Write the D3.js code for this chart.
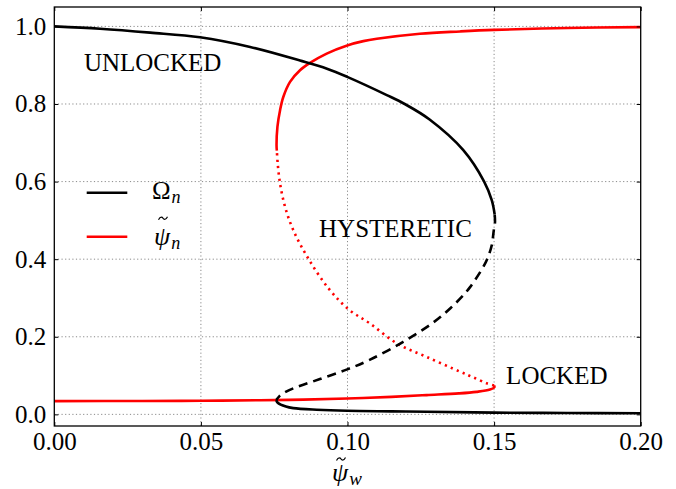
<!DOCTYPE html>
<html>
<head>
<meta charset="utf-8">
<script src="https://cdn.jsdelivr.net/npm/d3@7/dist/d3.min.js"></script>
<style>
  html, body { margin: 0; padding: 0; background: #fff; }
  svg { display: block; }
  text { font-family: "Liberation Serif", "DejaVu Serif", serif; fill: #000; }
</style>
</head>
<body>
<svg id="chart" width="676" height="489"></svg>
<script>
// Axis ticks
const xTicks = [0.00, 0.05, 0.10, 0.15, 0.20];
const yTicks = [0.0, 0.2, 0.4, 0.6, 0.8, 1.0];

// Omega_n branches, [psi_w, value]
const omegaUpper = [
  [0.0000, 1.000], [0.0156, 0.994], [0.0327, 0.984], [0.0497, 0.972],
  [0.0668, 0.947], [0.0838, 0.912], [0.0930, 0.891], [0.0999, 0.870],
  [0.1134, 0.823], [0.1195, 0.800], [0.1280, 0.760], [0.1395, 0.681],
  [0.1466, 0.600], [0.1492, 0.552], [0.1502, 0.515]
];
const omegaUnstable = [
  [0.1502, 0.515], [0.1503, 0.495], [0.1499, 0.475], [0.1492, 0.436],
  [0.1479, 0.405], [0.1463, 0.380], [0.1418, 0.328], [0.1395, 0.307],
  [0.1350, 0.273], [0.1293, 0.237], [0.1190, 0.187], [0.1077, 0.141],
  [0.0999, 0.116], [0.0906, 0.091], [0.0815, 0.067], [0.0787, 0.057],
  [0.0768, 0.047], [0.0757, 0.037]
];
const omegaLower = [
  [0.0757, 0.037], [0.0762, 0.030], [0.0790, 0.020], [0.0815, 0.016],
  [0.0895, 0.012], [0.0999, 0.0093], [0.1150, 0.0078], [0.1270, 0.0067],
  [0.1500, 0.0045], [0.1750, 0.0035], [0.2000, 0.0028]
];

// psi_n branches, [psi_w, value]
const psiLower = [
  [0.0000, 0.034], [0.0300, 0.0345], [0.0500, 0.035], [0.0702, 0.0365],
  [0.0850, 0.038], [0.0999, 0.041], [0.1150, 0.045], [0.1270, 0.0497],
  [0.1380, 0.054], [0.1440, 0.058], [0.1486, 0.064], [0.1501, 0.070],
  [0.1500, 0.0745]
];
const psiUnstable = [
  [0.1500, 0.0745], [0.1475, 0.080], [0.1430, 0.095], [0.1384, 0.110],
  [0.1270, 0.148], [0.1168, 0.183], [0.1077, 0.234], [0.1003, 0.271],
  [0.0935, 0.325], [0.0866, 0.402], [0.0815, 0.475], [0.0787, 0.535],
  [0.0770, 0.595], [0.0762, 0.646], [0.0759, 0.680]
];
const psiUpper = [
  [0.0759, 0.680], [0.0758, 0.693], [0.0761, 0.741], [0.0770, 0.784],
  [0.0781, 0.818], [0.0804, 0.857], [0.0838, 0.887], [0.0872, 0.906],
  [0.0929, 0.930], [0.0999, 0.951], [0.1054, 0.962], [0.1100, 0.968],
  [0.1247, 0.981], [0.1384, 0.987], [0.1500, 0.991], [0.1750, 0.996],
  [0.2000, 0.998]
];

// Region labels: [text, psi_w, value]
const regionLabels = [
  ["UNLOCKED", 0.0101, 0.885],
  ["HYSTERETIC", 0.0903, 0.457],
  ["LOCKED", 0.1541, 0.077]
];

const serif = '"Liberation Serif", "DejaVu Serif", serif';
const svg = d3.select("#chart");
const plotLeft = 54.3, plotRight = 640.7, plotTop = 7, plotBottom = 426;

const x = d3.scaleLinear().domain([0, 0.2]).range([plotLeft, plotRight]);
const y = d3.scaleLinear().domain([-0.03, 1.05]).range([plotBottom, plotTop]);

// dotted grid
const grid = svg.append("g").attr("stroke", "#8a8a8a").attr("stroke-width", 1)
  .attr("stroke-dasharray", "1.2,2.4");
grid.selectAll("line.gx").data(xTicks.slice(1, -1)).join("line")
  .attr("x1", d => x(d)).attr("x2", d => x(d))
  .attr("y1", plotTop).attr("y2", plotBottom);
grid.selectAll("line.gy").data(yTicks).join("line")
  .attr("x1", plotLeft).attr("x2", plotRight)
  .attr("y1", d => y(d)).attr("y2", d => y(d));

// curves
const line = d3.line().x(d => x(d[0])).y(d => y(d[1]))
  .curve(d3.curveCatmullRom.alpha(0.5));

const curves = [
  { data: psiLower, color: "#ff0000", dash: null },
  { data: psiUnstable, color: "#ff0000", dash: "2.2,4.2" },
  { data: psiUpper, color: "#ff0000", dash: null },
  { data: omegaUpper, color: "#000000", dash: null },
  { data: omegaUnstable, color: "#000000", dash: "9,6" },
  { data: omegaLower, color: "#000000", dash: null }
];
svg.append("g").selectAll("path").data(curves).join("path")
  .attr("d", d => line(d.data))
  .attr("fill", "none")
  .attr("stroke", d => d.color)
  .attr("stroke-width", 2.6)
  .attr("stroke-dasharray", d => d.dash)
  .attr("stroke-linecap", "butt");

// frame
svg.append("rect")
  .attr("x", plotLeft).attr("y", plotTop)
  .attr("width", plotRight - plotLeft).attr("height", plotBottom - plotTop)
  .attr("fill", "none").attr("stroke", "#000").attr("stroke-width", 1.3);

// axes with inward ticks on all four sides
const fmtX = d3.format(".2f"), fmtY = d3.format(".1f");
const axB = svg.append("g").attr("transform", `translate(0,${plotBottom})`)
  .call(d3.axisBottom(x).tickValues(xTicks).tickFormat(fmtX).tickSize(-4).tickPadding(6));
const axL = svg.append("g").attr("transform", `translate(${plotLeft},0)`)
  .call(d3.axisLeft(y).tickValues(yTicks).tickFormat(fmtY).tickSize(-4).tickPadding(8));
const axT = svg.append("g").attr("transform", `translate(0,${plotTop})`)
  .call(d3.axisTop(x).tickValues(xTicks).tickFormat("").tickSize(-4));
const axR = svg.append("g").attr("transform", `translate(${plotRight},0)`)
  .call(d3.axisRight(y).tickValues(yTicks).tickFormat("").tickSize(-4));
[axB, axL, axT, axR].forEach(a => {
  a.attr("font-family", serif).attr("font-size", 25);
  a.select(".domain").remove();
  a.selectAll(".tick line").attr("stroke", "#000").attr("stroke-width", 1);
  a.selectAll(".tick text")
    .attr("font-family", serif).attr("font-size", 25)
    .style("font-family", serif).style("font-size", "25px")
    .attr("fill", "#000");
});

// region labels
svg.append("g").selectAll("text").data(regionLabels).join("text")
  .attr("x", d => x(d[1])).attr("y", d => y(d[2]))
  .style("font-size", "25px")
  .text(d => d[0]);

// small tilde accent drawn as a stroke, centred at (cx, cy)
function tilde(cx, cy) {
  svg.append("path")
    .attr("d", `M${cx - 4.5},${cy + 1.5} C${cx - 2.5},${cy - 2.5} ${cx - 0.5},${cy - 1} ${cx},${cy}` +
               ` S${cx + 2.5},${cy + 2.5} ${cx + 4.5},${cy - 1.5}`)
    .attr("fill", "none").attr("stroke", "#000").attr("stroke-width", 1.2);
}

// legend
const legend = svg.append("g");
const legendItems = [
  { color: "#000000", sym: "Ω", italic: false, sub: "n", ly: 192.7, base: 6.6, tx: 152 },
  { color: "#ff0000", sym: "ψ", italic: true, sub: "n", ly: 236.7, base: 8.5, tx: 154 }
];
legendItems.forEach(it => {
  legend.append("line")
    .attr("x1", 86.7).attr("x2", 127.3)
    .attr("y1", it.ly).attr("y2", it.ly)
    .attr("stroke", it.color).attr("stroke-width", 2.6);
  const t = legend.append("text").attr("x", it.tx).attr("y", it.ly + it.base)
    .style("font-size", it.italic ? "26px" : "25px");
  t.append("tspan").style("font-style", it.italic ? "italic" : "normal").text(it.sym);
  t.append("tspan").attr("dx", 1).attr("dy", 4).style("font-size", "18px").style("font-style", "italic").text(it.sub);
  if (it.italic) tilde(163, it.ly - 18.5);
});

// x axis label
const xl = svg.append("text").attr("x", 332).attr("y", 481).style("font-size", "26px");
xl.append("tspan").style("font-style", "italic").text("ψ");
xl.append("tspan").attr("dx", 1).attr("dy", 4).style("font-size", "19px").style("font-style", "italic").text("w");
tilde(341, 459);
</script>
</body>
</html>
